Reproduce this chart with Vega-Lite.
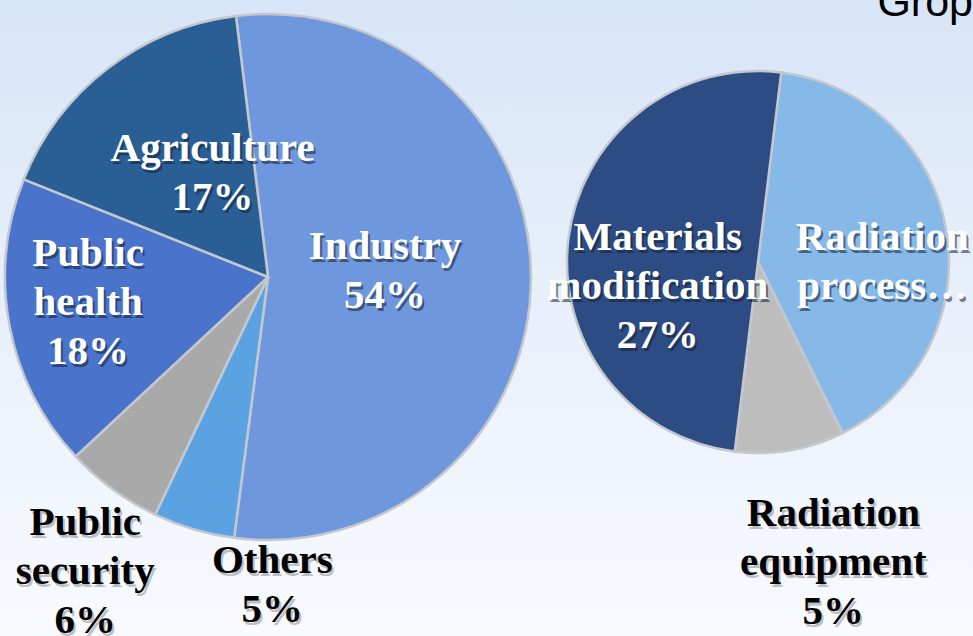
{
  "$schema": "https://vega.github.io/schema/vega-lite/v6.json",
  "width": 973,
  "height": 636,
  "padding": 0,
  "autosize": {"type": "none"},
  "title": {
    "text": "Grop",
    "orient": "top",
    "anchor": "end",
    "frame": "group",
    "offset": 0,
    "dy": 100,
    "baseline": "alphabetic",
    "font": "Liberation Sans",
    "fontSize": 43,
    "fontWeight": "normal",
    "color": "#000000"
  },
  "datasets": {
    "applications": [
      {"chart": "Applications", "sector": "Industry", "share": 54, "label": "Industry\n54%"},
      {"chart": "Applications", "sector": "Others", "share": 5, "label": "Others\n5%"},
      {"chart": "Applications", "sector": "Public security", "share": 6, "label": "Public\nsecurity\n6%"},
      {"chart": "Applications", "sector": "Public health", "share": 18, "label": "Public\nhealth\n18%"},
      {"chart": "Applications", "sector": "Agriculture", "share": 17, "label": "Agriculture\n17%"}
    ],
    "industry": [
      {"chart": "Industry", "sector": "Radiation processing", "share": 22, "label": "Radiation\nprocess…"},
      {"chart": "Industry", "sector": "Radiation equipment", "share": 5, "label": "Radiation\nequipment\n5%"},
      {"chart": "Industry", "sector": "Materials modification", "share": 27, "label": "Materials\nmodification\n27%"}
    ]
  },
  "layer": [
    {
      "data": {"name": "applications"},
      "transform": [{"window": [{"op": "row_number", "as": "slice_order"}]}],
      "encoding": {
        "x": {"field": "chart", "type": "nominal", "scale": {"type": "point", "domain": ["Applications", "Industry"], "range": [268, 758], "padding": 0}, "axis": null},
        "y": {"field": "chart", "type": "nominal", "scale": {"type": "point", "domain": ["Applications", "Industry"], "range": [277, 262], "padding": 0}, "axis": null},
        "theta": {"field": "share", "type": "quantitative", "stack": true, "scale": {"range": [-0.1222, 6.161]}},
        "order": {"field": "slice_order", "type": "quantitative"}
      },
      "layer": [
        {
          "mark": {"type": "arc", "outerRadius": 263, "stroke": "#c4c8ce", "strokeWidth": 2.5},
          "encoding": {
            "color": {"field": "sector", "type": "nominal", "legend": null,
              "scale": {"domain": ["Industry", "Others", "Public security", "Public health", "Agriculture", "Radiation processing", "Radiation equipment", "Materials modification"],
                        "range": ["#6f97dd", "#5aa2e2", "#a9a9a9", "#4a74cb", "#2a5f96", "#86b9e8", "#bdbdbd", "#2d4c83"]}}
          }
        },
        {"mark": {"type": "text", "radius": 117, "dx": 2, "dy": -27, "fill": "#142033", "opacity": 0.55},
         "encoding": {"text": {"condition": {"test": "datum.sector === 'Industry'", "field": "label"}, "value": ""}}},
        {"mark": {"type": "text", "radius": 117, "dx": 0, "dy": -30, "fill": "#ffffff"},
         "encoding": {"text": {"condition": {"test": "datum.sector === 'Industry'", "field": "label"}, "value": ""}}},
        {"mark": {"type": "text", "radius": 117, "dx": 18, "dy": -32, "fill": "#142033", "opacity": 0.55},
         "encoding": {"text": {"condition": {"test": "datum.sector === 'Agriculture'", "field": "label"}, "value": ""}}},
        {"mark": {"type": "text", "radius": 117, "dx": 16, "dy": -35, "fill": "#ffffff"},
         "encoding": {"text": {"condition": {"test": "datum.sector === 'Agriculture'", "field": "label"}, "value": ""}}},
        {"mark": {"type": "text", "radius": 180, "dx": -1, "dy": -53, "fill": "#142033", "opacity": 0.55},
         "encoding": {"text": {"condition": {"test": "datum.sector === 'Public health'", "field": "label"}, "value": ""}}},
        {"mark": {"type": "text", "radius": 180, "dx": -3, "dy": -56, "fill": "#ffffff"},
         "encoding": {"text": {"condition": {"test": "datum.sector === 'Public health'", "field": "label"}, "value": ""}}},
        {"mark": {"type": "text", "radius": 340, "dx": 20, "dy": -25, "fill": "#555555", "opacity": 0.35},
         "encoding": {"text": {"condition": {"test": "datum.sector === 'Public security'", "field": "label"}, "value": ""}}},
        {"mark": {"type": "text", "radius": 340, "dx": 18, "dy": -28, "fill": "#000000"},
         "encoding": {"text": {"condition": {"test": "datum.sector === 'Public security'", "field": "label"}, "value": ""}}},
        {"mark": {"type": "text", "radius": 300, "dx": 91, "dy": -1, "fill": "#555555", "opacity": 0.35},
         "encoding": {"text": {"condition": {"test": "datum.sector === 'Others'", "field": "label"}, "value": ""}}},
        {"mark": {"type": "text", "radius": 300, "dx": 89, "dy": -4, "fill": "#000000"},
         "encoding": {"text": {"condition": {"test": "datum.sector === 'Others'", "field": "label"}, "value": ""}}}
      ]
    },
    {
      "data": {"name": "industry"},
      "transform": [{"window": [{"op": "row_number", "as": "slice_order"}]}],
      "encoding": {
        "x": {"field": "chart", "type": "nominal", "scale": {"type": "point", "domain": ["Applications", "Industry"], "range": [268, 758], "padding": 0}, "axis": null},
        "y": {"field": "chart", "type": "nominal", "scale": {"type": "point", "domain": ["Applications", "Industry"], "range": [277, 262], "padding": 0}, "axis": null},
        "theta": {"field": "share", "type": "quantitative", "stack": true, "scale": {"range": [0.1222, 6.4054]}},
        "order": {"field": "slice_order", "type": "quantitative"}
      },
      "layer": [
        {
          "mark": {"type": "arc", "outerRadius": 191, "stroke": "#c4c8ce", "strokeWidth": 2.5},
          "encoding": {
            "color": {"field": "sector", "type": "nominal", "legend": null,
              "scale": {"domain": ["Industry", "Others", "Public security", "Public health", "Agriculture", "Radiation processing", "Radiation equipment", "Materials modification"],
                        "range": ["#6f97dd", "#5aa2e2", "#a9a9a9", "#4a74cb", "#2a5f96", "#86b9e8", "#bdbdbd", "#2d4c83"]}}
          }
        },
        {"mark": {"type": "text", "radius": 124, "dx": 4, "dy": 0, "fill": "#142033", "opacity": 0.55},
         "encoding": {"text": {"condition": {"test": "datum.sector === 'Radiation processing'", "field": "label"}, "value": ""}}},
        {"mark": {"type": "text", "radius": 124, "dx": 2, "dy": -3, "fill": "#ffffff"},
         "encoding": {"text": {"condition": {"test": "datum.sector === 'Radiation processing'", "field": "label"}, "value": ""}}},
        {"mark": {"type": "text", "radius": 100, "dx": 1, "dy": -9, "fill": "#142033", "opacity": 0.55},
         "encoding": {"text": {"condition": {"test": "datum.sector === 'Materials modification'", "field": "label"}, "value": ""}}},
        {"mark": {"type": "text", "radius": 100, "dx": -1, "dy": -12, "fill": "#ffffff"},
         "encoding": {"text": {"condition": {"test": "datum.sector === 'Materials modification'", "field": "label"}, "value": ""}}},
        {"mark": {"type": "text", "radius": 300, "dx": 27, "dy": -41, "fill": "#555555", "opacity": 0.35},
         "encoding": {"text": {"condition": {"test": "datum.sector === 'Radiation equipment'", "field": "label"}, "value": ""}}},
        {"mark": {"type": "text", "radius": 300, "dx": 25, "dy": -44, "fill": "#000000"},
         "encoding": {"text": {"condition": {"test": "datum.sector === 'Radiation equipment'", "field": "label"}, "value": ""}}}
      ]
    }
  ],
  "resolve": {"scale": {"theta": "independent"}},
  "config": {
    "view": {
      "stroke": null,
      "fill": {"gradient": "linear", "x1": 0, "y1": 0, "x2": 0, "y2": 1,
               "stops": [{"offset": 0, "color": "#d7e5f8"}, {"offset": 0.5, "color": "#e9f0fb"}, {"offset": 1, "color": "#f8fafe"}]}
    },
    "text": {
      "font": "Liberation Serif",
      "fontSize": 41,
      "fontWeight": "bold",
      "lineHeight": 49,
      "lineBreak": "\n",
      "align": "center",
      "baseline": "middle"
    }
  }
}
